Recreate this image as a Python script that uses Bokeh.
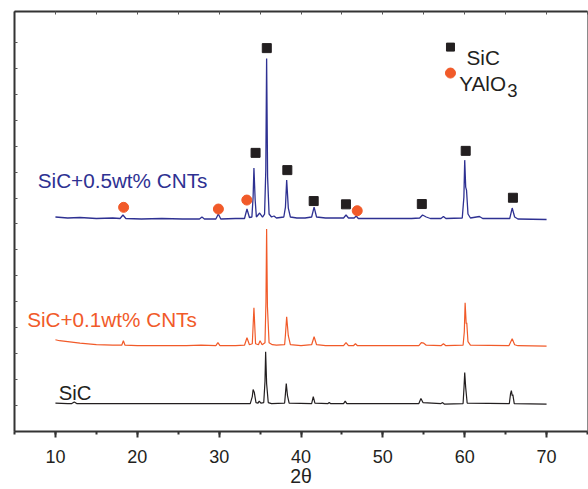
from bokeh.plotting import figure
from bokeh.models import LinearAxis, SingleIntervalTicker, FixedTicker, Label, Range1d
from bokeh.embed import file_html
from bokeh.resources import INLINE

# ---------------- data ----------------
# SiC + 0.5 wt% CNTs (blue)
blue_x = [10.0, 11.5, 13.0, 15.0, 17.0, 17.9, 18.25, 18.6, 20.5, 23.0, 25.5, 27.6, 27.9, 28.2,
          29.6, 29.9, 30.2, 32.0, 33.1, 33.4, 33.7, 34.0, 34.15, 34.25, 34.4, 34.55, 34.95, 35.3,
          35.55, 35.7, 35.8, 35.92, 36.1, 36.4, 36.7, 37.0, 37.9, 38.1, 38.25, 38.45, 38.7, 39.5,
          40.5, 41.3, 41.6, 41.9, 43.0, 45.2, 45.5, 45.8, 46.5, 46.75, 47.0, 50.0, 53.5, 54.5,
          54.85, 55.3, 55.8, 57.1, 57.4, 57.7, 59.7, 59.9, 60.0, 60.12, 60.22, 60.4, 60.7, 61.8,
          62.2, 65.5, 65.8, 66.1, 66.5, 70.0]
blue_y = [215, 214, 214.5, 213.5, 214, 213.5, 217, 213.5, 213, 213.5, 213, 213, 215, 213,
          213, 218, 213, 213.5, 213.5, 223, 214.5, 215, 235, 264, 232, 215, 219, 215,
          218, 262, 374, 255, 218, 215, 216, 214, 215, 225, 252, 224, 215, 214,
          214, 215, 225, 215, 214, 214, 217, 214, 214, 216, 213.5, 213.5, 213.5, 214,
          217, 215, 213.5, 213.5, 215.5, 213.5, 214, 235, 272, 245, 242, 218, 214, 215.5,
          213.5, 213.5, 224, 215, 213, 212.5]

# SiC + 0.1 wt% CNTs (orange)
orange_x = [10.0, 10.5, 11.5, 13.0, 15.0, 17.0, 18.1, 18.3, 18.5, 20.0, 23.0, 26.0, 27.8,
            29.6, 29.85, 30.1, 32.0, 33.1, 33.4, 33.7, 34.05, 34.25, 34.45, 34.8, 35.0, 35.25,
            35.6, 35.72, 35.8, 35.9, 36.1, 36.5, 37.0, 38.0, 38.1, 38.25, 38.45, 38.7, 40.0,
            41.3, 41.6, 41.9, 43.0, 45.2, 45.5, 45.8, 46.4, 46.65, 46.9, 50.0, 54.4, 54.7,
            55.0, 55.3, 57.1, 57.4, 57.7, 59.8, 59.95, 60.05, 60.18, 60.25, 60.4, 60.7, 65.4,
            65.8, 66.1, 66.5, 70.0]
orange_y = [92, 91, 90, 88.5, 87, 86.5, 86.5, 91, 86.5, 86, 86, 86, 86.5,
            86, 89, 86, 86, 86.5, 94, 87, 88, 124, 88, 87, 91, 87,
            89, 130, 203, 125, 89, 87, 86.5, 87, 97, 115, 96, 87, 86,
            87, 95, 87, 86, 86, 89, 86, 86, 88, 86, 86, 86, 89,
            88.5, 86.5, 86, 88, 86, 86.5, 100, 129, 108, 109, 90, 86.5, 86,
            93, 87, 86, 85.5]

# SiC (black)
black_x = [10.0, 11.5, 12.0, 12.3, 12.6, 15.0, 20.0, 25.0, 30.0, 33.8, 34.05, 34.15, 34.3,
           34.5, 34.75, 34.9, 35.1, 35.45, 35.6, 35.68, 35.8, 36.0, 36.4, 38.0, 38.1, 38.2,
           38.35, 38.55, 41.3, 41.5, 41.7, 43.3, 43.45, 43.6, 45.2, 45.4, 45.6, 54.4, 54.65,
           54.9, 57.1, 57.3, 57.5, 59.8, 59.92, 60.0, 60.12, 60.3, 65.45, 65.6, 65.7, 65.8,
           65.88, 66.05, 70.0]
black_y = [28.5, 28, 28, 29.5, 28, 28, 28, 28, 28, 28, 35, 42, 39,
           29, 28.5, 30.5, 28.5, 29, 50, 80, 48, 29, 28, 28.5, 38, 48,
           36, 28.5, 28, 35, 28.5, 28, 29, 28, 28, 30.5, 28, 28, 33,
           29, 28, 29, 27.5, 28, 45, 59, 44, 28.5, 28, 38, 41, 36,
           37, 28, 27.5]

# phase markers on the blue pattern
sic_x = [34.45, 35.82, 38.33, 41.55, 45.49, 54.76, 60.12, 65.89]
sic_y = [279.3, 384.3, 262, 231, 227.7, 228, 281.3, 234.3]
yalo_x = [18.33, 29.91, 33.38, 46.87]
yalo_y = [224.7, 223, 232, 221.3]

x_ticks_major = 10
y_ticks = [26 * k for k in range(1, 16)]

BLUE = "#2E3192"
ORANGE = "#F15A29"
BLACK = "#231F20"
FONT = "Liberation Sans"

p = figure(width=588, height=489, output_backend="svg", toolbar_location=None,
           x_range=Range1d(5, 75), y_range=Range1d(0, 421),
           min_border_left=14, min_border_right=1, min_border_top=11, min_border_bottom=57)
p.background_fill_color = "white"
p.border_fill_color = "white"
p.outline_line_color = "#8a8a8a"
p.outline_line_width = 1
p.xgrid.visible = False
p.ygrid.visible = False

# bottom axis
xa = p.xaxis[0]
xa.ticker = SingleIntervalTicker(interval=x_ticks_major, num_minor_ticks=2)
xa.axis_label = "2θ"
xa.axis_label_text_font = FONT
xa.axis_label_text_font_size = "19.5px"
xa.axis_label_text_font_style = "normal"
xa.axis_label_text_color = BLACK
xa.axis_label_standoff = -1
xa.major_label_text_font = FONT
xa.major_label_text_font_size = "18px"
xa.major_label_text_color = BLACK
xa.major_label_standoff = 12
xa.axis_line_color = "#333333"
xa.axis_line_width = 2
xa.major_tick_line_color = "#333333"
xa.major_tick_line_width = 2
xa.major_tick_out = 6
xa.major_tick_in = 0
xa.minor_tick_line_color = "#333333"
xa.minor_tick_line_width = 2
xa.minor_tick_out = 3
xa.minor_tick_in = 0

# left axis (no labels, inward ticks)
ya = p.yaxis[0]
ya.ticker = FixedTicker(ticks=y_ticks)
ya.major_label_text_font_size = "0px"
ya.major_label_text_color = None
ya.major_label_standoff = 0
ya.axis_line_color = "#333333"
ya.axis_line_width = 2
ya.major_tick_line_color = "#555555"
ya.major_tick_in = 3
ya.major_tick_out = 0
ya.minor_tick_line_color = None

# top axis (inward ticks)
ta = LinearAxis(ticker=SingleIntervalTicker(interval=5, num_minor_ticks=0))
ta.major_label_text_font_size = "0px"
ta.major_label_text_color = None
ta.major_label_standoff = 0
ta.axis_line_color = "#333333"
ta.axis_line_width = 2
ta.major_tick_line_color = "#555555"
ta.major_tick_in = 3
ta.major_tick_out = 0
ta.minor_tick_line_color = None
p.add_layout(ta, "above")

# patterns
p.line(black_x, black_y, line_color=BLACK, line_width=1.2)
p.line(orange_x, orange_y, line_color=ORANGE, line_width=1.2)
p.line(blue_x, blue_y, line_color=BLUE, line_width=1.3)

# phase markers
p.scatter(sic_x, sic_y, marker="square", size=9, fill_color=BLACK, line_color=BLACK)
p.scatter(yalo_x, yalo_y, marker="circle", size=10, fill_color=ORANGE, line_color=ORANGE)

# legend (manual)
p.scatter([58.26], [385.3], marker="square", size=8, fill_color=BLACK, line_color=BLACK)
p.scatter([58.26], [359.3], marker="circle", size=10, fill_color=ORANGE, line_color=ORANGE)

def lab(x, y, text, color, size="20.7px", align="left"):
    p.add_layout(Label(x=x, y=y, text=text, text_color=color, text_font=FONT,
                       text_font_size=size, text_align=align, text_baseline="alphabetic"))

lab(60.22, 375.3, "SiC", BLACK)
lab(59.33, 348.7, "YAlO", BLACK)
lab(65.2, 342.0, "3", BLACK, "18.5px")

lab(7.84, 252.0, "SiC+0.5wt% CNTs", BLUE)
lab(6.55, 112.0, "SiC+0.1wt% CNTs", ORANGE)
lab(10.40, 39.0, "SiC", BLACK, "20.3px")

open("out.html", "w").write(file_html(p, INLINE))
